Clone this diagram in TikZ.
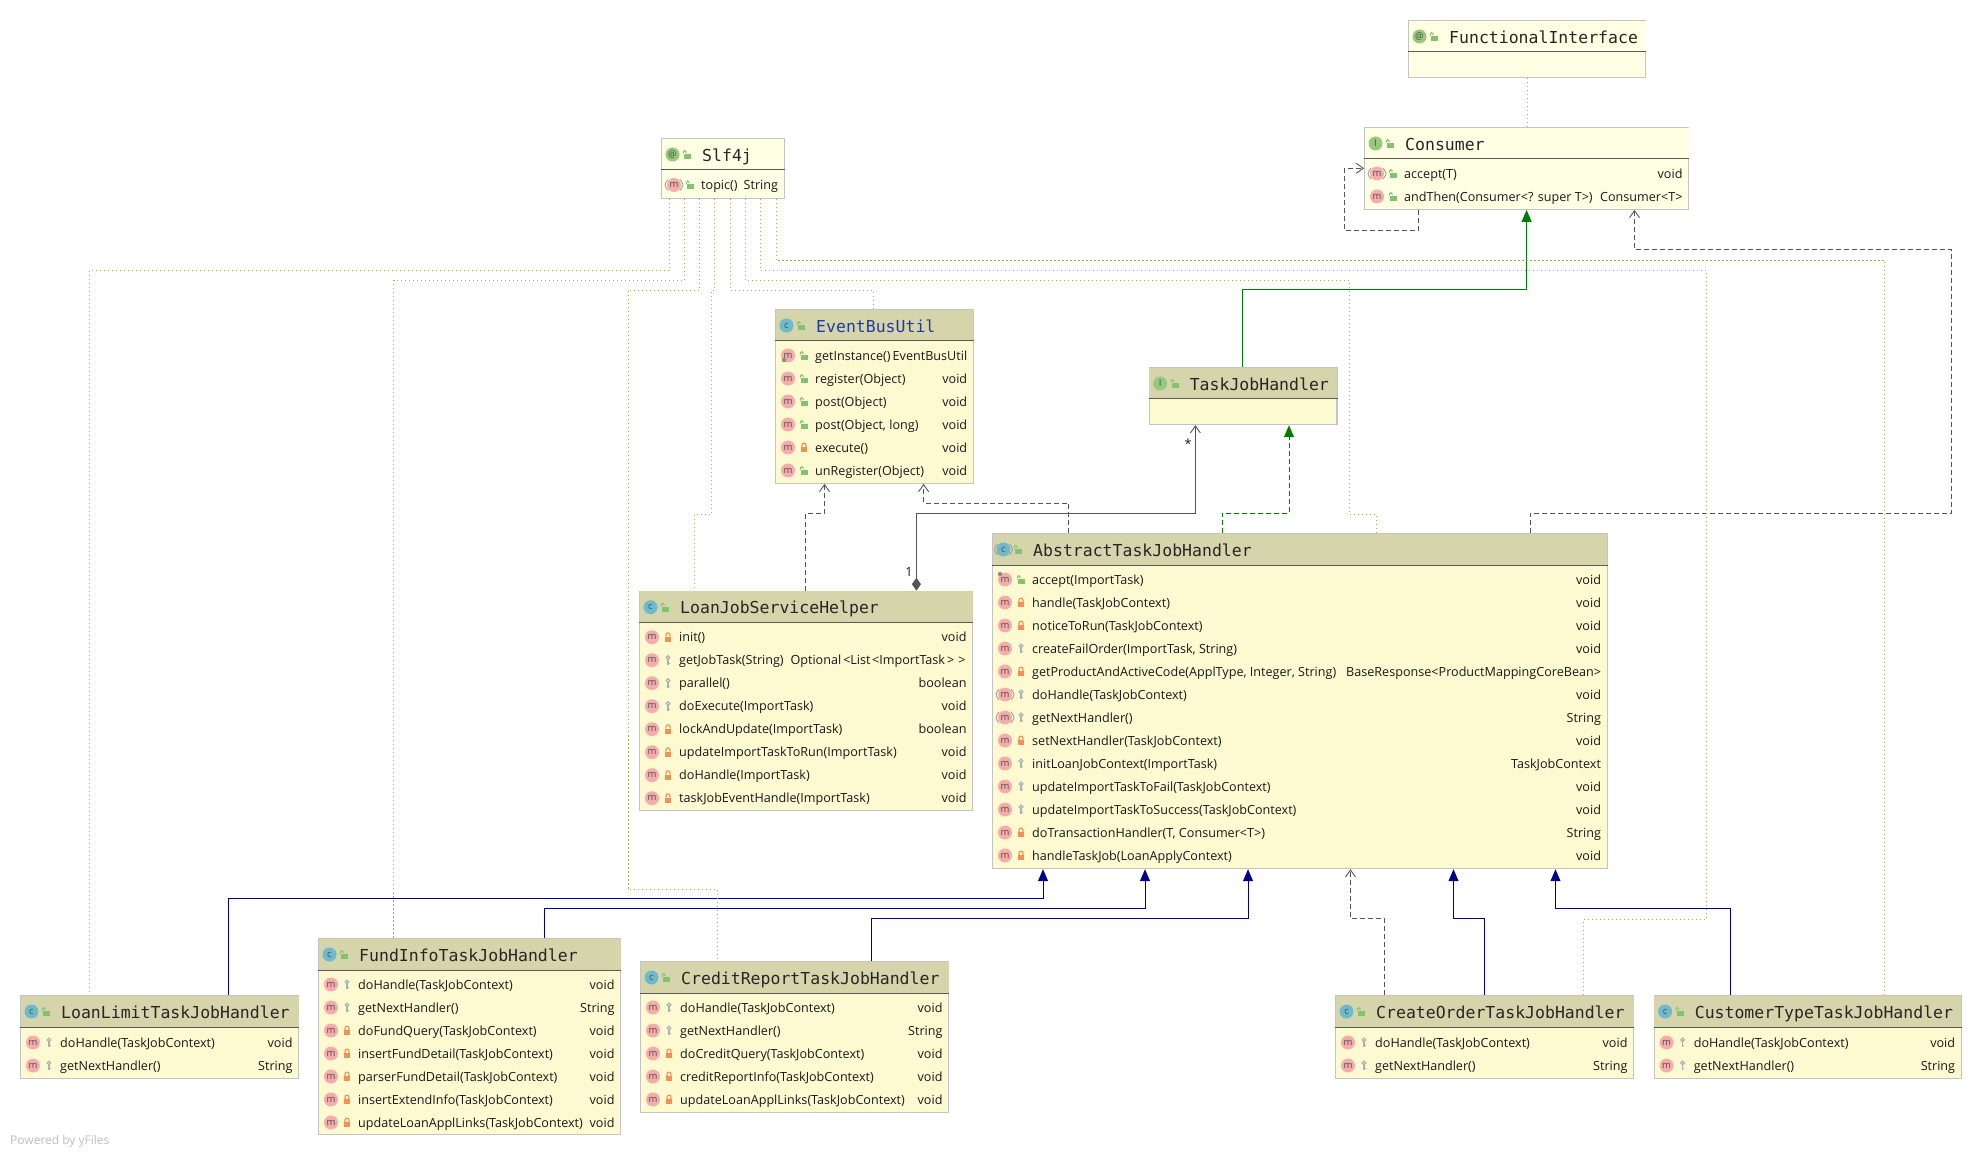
\documentclass[tikz,border=0pt]{standalone}
\usepackage{fontspec}
\setmainfont{Open Sans}
\newfontfamily\titlefont{DejaVu Sans Mono}
\usetikzlibrary{arrows.meta}

\definecolor{headkhaki}{RGB}{214,212,170}
\definecolor{bodykhaki}{RGB}{253,249,208}
\definecolor{palebox}{RGB}{255,255,228}
\definecolor{boxline}{RGB}{196,196,196}
\definecolor{headline}{RGB}{90,90,90}
\definecolor{dotolive}{RGB}{172,172,76}
\definecolor{depgrey}{RGB}{85,85,85}
\definecolor{navyline}{RGB}{0,0,140}
\definecolor{greenline}{RGB}{0,125,0}
\definecolor{pinkbadge}{RGB}{247,172,172}
\definecolor{bluebadge}{RGB}{110,185,205}
\definecolor{greenbadge}{RGB}{150,200,125}
\definecolor{pubgreen}{RGB}{130,195,110}
\definecolor{privorange}{RGB}{243,145,85}
\definecolor{keygrey}{RGB}{170,178,178}
\definecolor{titleblue}{RGB}{30,60,165}

\tikzset{
    classbox/.style={draw=boxline,line width=1.2pt,fill=bodykhaki,anchor=north west,inner sep=0pt},
    paleclass/.style={classbox,fill=palebox},
    badge/.style={circle,inner sep=0pt,minimum size=14pt,text=black!70,font=\fontsize{9.5}{10}\selectfont},
    classtitle/.style={anchor=base west,inner sep=0pt,text=black!85,font=\titlefont\fontsize{16.5}{18}\selectfont},
    membertext/.style={inner sep=0pt,text=black!90,font=\fontsize{12.6}{14}\selectfont},
    extendsline/.style={draw=navyline,line width=1pt,-{Triangle[width=10pt,length=12pt]}},
    implline/.style={draw=greenline,line width=1pt,-{Triangle[width=10pt,length=12pt]}},
    depline/.style={draw=depgrey,line width=.9pt,dash pattern=on 5pt off 3pt,-{Straight Barb[length=7pt,width=10pt]}},
    annotline/.style={draw=dotolive,line width=1pt,dash pattern=on 1.1pt off 2.9pt},
}

% visibility marks, drawn around the origin of a scope
\newcommand{\vispub}{%
    \fill[pubgreen] (-3,-.5) rectangle (4,4.3);
    \draw[pubgreen,line width=1pt] (-3.6,-.8) -- (-3.6,-2.6) arc (180:360:1.3) -- (-1,-1.6);
}
\newcommand{\vispriv}{%
    \fill[privorange] (-3.4,-.5) rectangle (3.4,4.4);
    \draw[privorange,line width=1.1pt] (-2,-.5) -- (-2,-2.4) arc (180:360:2) -- (2,-.5);
}
\newcommand{\viskey}{%
    \draw[keygrey,line width=1.2pt] (0,-2.6) circle (1.8);
    \draw[keygrey,line width=1.5pt] (0,-.8) -- (0,4.8);
    \draw[keygrey,line width=1pt] (0,3.2) -- (1.6,3.2);
}

% first row of a class, below its top edge
\newcommand{\rowtop}{46.5}

% header of a class: name, fill colour, badge colour, badge letter, title
\newcommand{\classhead}[5]{%
    \fill[#2] ([shift={(.6,.6)}]#1.north west) rectangle ([shift={(-.6,32)}]#1.north east);
    \draw[headline,line width=1pt] ([yshift=-32pt]#1.north west) -- ([yshift=-32pt]#1.north east);
    \node[badge,fill=#3] (#1-badge) at ([shift={(11.5,16.5)}]#1.north west) {#4};
    \begin{scope}[shift={([shift={(26,16.5)}]#1.north west)}]
        \vispub
    \end{scope}
    \node[classtitle] (#1-title) at ([shift={(41,23.2)}]#1.north west) {#5};
}

% one row of a class: class, row, visibility, name, type
\newcommand{\memberrow}[5]{%
    \node[badge,fill=pinkbadge] (#1-badge#2) at ([shift={(13,\rowtop+23*#2)}]#1.north west) {m};
    \begin{scope}[shift={([shift={(29,\rowtop+23*#2)}]#1.north west)}]
        \csname vis#3\endcsname
    \end{scope}
    \node[membertext,anchor=base west] (#1-name#2) at ([shift={(40,\rowtop+4.6+23*#2)}]#1.north west) {#4};
    \node[membertext,anchor=base east] (#1-type#2) at ([shift={(-6.5,\rowtop+4.6+23*#2)}]#1.north east) {#5};
}

% grey brackets round a badge, for abstract members
\newcommand{\abstractmark}[1]{%
    \draw[black!40,line width=.8pt] ([shift={(-6,-5.5)}]#1.center) .. controls ([shift={(-10,0)}]#1.center) .. ([shift={(-6,5.5)}]#1.center);
    \draw[black!40,line width=.8pt] ([shift={(6,-5.5)}]#1.center) .. controls ([shift={(10,0)}]#1.center) .. ([shift={(6,5.5)}]#1.center);
}

\begin{document}
\begin{tikzpicture}[x=1pt,y=-1pt]
    \useasboundingbox[fill=white] (0,0) rectangle (1982,1155);

    % the annotation and the interfaces
    \node[paleclass,minimum width=237pt,minimum height=56.7pt] (functional) at (1408,20) {};
    \classhead{functional}{palebox}{greenbadge}{@}{FunctionalInterface}

    \node[paleclass,minimum width=324pt,minimum height=81.7pt] (consumer) at (1364,127) {};
    \classhead{consumer}{palebox}{greenbadge}{I}{Consumer}
    \memberrow{consumer}{0}{pub}{accept(T)}{void}
    \memberrow{consumer}{1}{pub}{andThen(Consumer<? super T>)}{Consumer<T>}
    \abstractmark{consumer-badge0}

    \renewcommand{\rowtop}{47}
    \node[paleclass,minimum width=122.5pt,minimum height=59.7pt] (slf) at (661,138) {};
    \classhead{slf}{palebox}{greenbadge}{@}{Slf4j}
    \memberrow{slf}{0}{pub}{topic()}{String}
    \abstractmark{slf-badge0}
    \renewcommand{\rowtop}{46.5}

    \node[classbox,minimum width=187.7pt,minimum height=57pt] (taskjob) at (1148.6,367) {};
    \classhead{taskjob}{headkhaki}{greenbadge}{I}{TaskJobHandler}

    % helper classes
    \node[classbox,minimum width=197.7pt,minimum height=173.7pt] (eventbus) at (775,309) {};
    \classhead{eventbus}{headkhaki}{bluebadge}{c}{\textcolor{titleblue}{EventBusUtil}}
    \memberrow{eventbus}{0}{pub}{getInstance()}{EventBusUtil}
    \memberrow{eventbus}{1}{pub}{register(Object)}{void}
    \memberrow{eventbus}{2}{pub}{post(Object)}{void}
    \memberrow{eventbus}{3}{pub}{post(Object, long)}{void}
    \memberrow{eventbus}{4}{priv}{execute()}{void}
    \memberrow{eventbus}{5}{pub}{unRegister(Object)}{void}
    \fill[black!45] ([shift={(-4,4.5)}]eventbus-badge0.center) circle (2.2);

    \node[classbox,minimum width=333pt,minimum height=219.5pt] (loanjob) at (639,590.7) {};
    \classhead{loanjob}{headkhaki}{bluebadge}{c}{LoanJobServiceHelper}
    \memberrow{loanjob}{0}{priv}{init()}{void}
    \memberrow{loanjob}{1}{key}{getJobTask(String)}{Optional\kern2pt<List\kern1.5pt<ImportTask\kern2pt>\kern4pt>\kern1pt}
    \memberrow{loanjob}{2}{key}{parallel()}{boolean}
    \memberrow{loanjob}{3}{key}{doExecute(ImportTask)}{void}
    \memberrow{loanjob}{4}{priv}{lockAndUpdate(ImportTask)}{boolean}
    \memberrow{loanjob}{5}{priv}{updateImportTaskToRun(ImportTask)}{void}
    \memberrow{loanjob}{6}{priv}{doHandle(ImportTask)}{void}
    \memberrow{loanjob}{7}{priv}{taskJobEventHandle(ImportTask)}{void}

    % abstract class
    \node[classbox,minimum width=614.5pt,minimum height=335pt] (abstract) at (992,533) {};
    \classhead{abstract}{headkhaki}{bluebadge}{c}{AbstractTaskJobHandler}
    \abstractmark{abstract-badge}
    \memberrow{abstract}{0}{pub}{accept(ImportTask)}{void}
    \memberrow{abstract}{1}{priv}{handle(TaskJobContext)}{void}
    \memberrow{abstract}{2}{priv}{noticeToRun(TaskJobContext)}{void}
    \memberrow{abstract}{3}{key}{createFailOrder(ImportTask, String)}{void}
    \memberrow{abstract}{4}{priv}{getProductAndActiveCode(ApplType, Integer, String)}{BaseResponse<ProductMappingCoreBean>}
    \memberrow{abstract}{5}{key}{doHandle(TaskJobContext)}{void}
    \memberrow{abstract}{6}{key}{getNextHandler()}{String}
    \memberrow{abstract}{7}{priv}{setNextHandler(TaskJobContext)}{void}
    \memberrow{abstract}{8}{key}{initLoanJobContext(ImportTask)}{TaskJobContext}
    \memberrow{abstract}{9}{key}{updateImportTaskToFail(TaskJobContext)}{void}
    \memberrow{abstract}{10}{key}{updateImportTaskToSuccess(TaskJobContext)}{void}
    \memberrow{abstract}{11}{priv}{doTransactionHandler(T, Consumer<T>)}{String}
    \memberrow{abstract}{12}{priv}{handleTaskJob(LoanApplyContext)}{void}
    \abstractmark{abstract-badge5}
    \abstractmark{abstract-badge6}
    \fill[black!45] ([shift={(-5,-5.5)}]abstract-badge0.center) circle (2.2);

    % concrete handlers
    \renewcommand{\rowtop}{47.5}
    \node[classbox,minimum width=278pt,minimum height=83pt] (loanlimit) at (20,995) {};
    \classhead{loanlimit}{headkhaki}{bluebadge}{c}{LoanLimitTaskJobHandler}
    \memberrow{loanlimit}{0}{key}{doHandle(TaskJobContext)}{void}
    \memberrow{loanlimit}{1}{key}{getNextHandler()}{String}
    \renewcommand{\rowtop}{46.5}

    \node[classbox,minimum width=302pt,minimum height=196pt] (fundinfo) at (318,938) {};
    \classhead{fundinfo}{headkhaki}{bluebadge}{c}{FundInfoTaskJobHandler}
    \memberrow{fundinfo}{0}{key}{doHandle(TaskJobContext)}{void}
    \memberrow{fundinfo}{1}{key}{getNextHandler()}{String}
    \memberrow{fundinfo}{2}{priv}{doFundQuery(TaskJobContext)}{void}
    \memberrow{fundinfo}{3}{priv}{insertFundDetail(TaskJobContext)}{void}
    \memberrow{fundinfo}{4}{priv}{parserFundDetail(TaskJobContext)}{void}
    \memberrow{fundinfo}{5}{priv}{insertExtendInfo(TaskJobContext)}{void}
    \memberrow{fundinfo}{6}{priv}{updateLoanApplLinks(TaskJobContext)}{void}

    \node[classbox,minimum width=308pt,minimum height=151pt] (credit) at (640,961) {};
    \classhead{credit}{headkhaki}{bluebadge}{c}{CreditReportTaskJobHandler}
    \memberrow{credit}{0}{key}{doHandle(TaskJobContext)}{void}
    \memberrow{credit}{1}{key}{getNextHandler()}{String}
    \memberrow{credit}{2}{priv}{doCreditQuery(TaskJobContext)}{void}
    \memberrow{credit}{3}{priv}{creditReportInfo(TaskJobContext)}{void}
    \memberrow{credit}{4}{priv}{updateLoanApplLinks(TaskJobContext)}{void}

    \renewcommand{\rowtop}{47.5}
    \node[classbox,minimum width=298pt,minimum height=82.5pt] (createorder) at (1335,995) {};
    \classhead{createorder}{headkhaki}{bluebadge}{c}{CreateOrderTaskJobHandler}
    \memberrow{createorder}{0}{key}{doHandle(TaskJobContext)}{void}
    \memberrow{createorder}{1}{key}{getNextHandler()}{String}

    \node[classbox,minimum width=307pt,minimum height=82.5pt] (customer) at (1653.6,995) {};
    \classhead{customer}{headkhaki}{bluebadge}{c}{CustomerTypeTaskJobHandler}
    \memberrow{customer}{0}{key}{doHandle(TaskJobContext)}{void}
    \memberrow{customer}{1}{key}{getNextHandler()}{String}

    % inheritance into the abstract class
    \draw[extendsline] ([xshift=208.4pt]loanlimit.north west) -- ++(0,-96.7) -| ([xshift=51pt]abstract.south west);
    \draw[extendsline] ([xshift=226.4pt]fundinfo.north west) -- ++(0,-29.7) -| ([xshift=153pt]abstract.south west);
    \draw[extendsline] ([xshift=231.4pt]credit.north west) -- ++(0,-42.7) -| ([xshift=256pt]abstract.south west);
    \draw[extendsline] ([xshift=149.4pt]createorder.north west) -- ++(0,-76.7) -| ([xshift=461.5pt]abstract.south west);
    \draw[extendsline] ([xshift=77pt]customer.north west) -- ++(0,-86.7) -| ([xshift=563.5pt]abstract.south west);

    % interfaces
    \draw[implline] ([xshift=93.7pt]taskjob.north west) -- ++(0,-77.7) -| ([xshift=162.6pt]consumer.south west);
    \draw[implline,dash pattern=on 5pt off 3pt] ([xshift=230pt]abstract.north west) -- ++(0,-20) -| ([xshift=140.4pt]taskjob.south west);

    % dependencies
    \draw[depline] ([xshift=49.4pt]createorder.north west) -- ++(0,-76.7) -| ([xshift=358.5pt]abstract.south west);
    \draw[depline] ([xshift=538pt]abstract.north west) -- ++(0,-20) -- ++(421.6,0) -- ++(0,-264) -| ([xshift=270.5pt]consumer.south west);
    \draw[depline] ([xshift=76.7pt]abstract.north west) -- ++(0,-30) -| ([xshift=148.6pt]eventbus.south west);
    \draw[depline] ([xshift=166.3pt]loanjob.north west) -- ++(0,-77.7) -| ([xshift=49.5pt]eventbus.south west);
    \draw[depline] ([xshift=54.3pt]consumer.south west) -- ++(0,20.6) -- ++(-74,0) |- ([yshift=-41.3pt]consumer.north west);

    % composition
    \draw[draw=depgrey,line width=.9pt,{Diamond[length=13pt,width=9pt,fill=depgrey]}-{Straight Barb[length=7pt,width=10pt]}] ([xshift=277.4pt]loanjob.north west) -- ++(0,-77.7) -| ([xshift=46.8pt]taskjob.south west);
    \node[membertext,anchor=center] (onelabel) at (909,572) {1};
    \node[membertext,anchor=center] (manylabel) at (1188,444) {*};

    % Slf4j and FunctionalInterface
    \draw[annotline] (functional.south) -- (functional.south |- consumer.north);
    \draw[annotline] ([xshift=8pt]slf.south west) -- ++(0,71.6) -| ([xshift=69.4pt]loanlimit.north west);
    \draw[annotline] ([xshift=23.3pt]slf.south west) -- ++(0,81.6) -| ([xshift=75.8pt]fundinfo.north west);
    \draw[annotline] ([xshift=38.5pt]slf.south west) -- ++(0,91.6) -- ++(-71.5,0) -- ++(0,598.7) -| ([xshift=77.7pt]credit.north west);
    \draw[annotline] ([xshift=53.6pt]slf.south west) -- ++(0,91.6) -- ++(-3.1,0) -- ++(0,223.7) -| ([xshift=55.6pt]loanjob.north west);
    \draw[annotline] ([xshift=69.7pt]slf.south west) -- ++(0,91.6) -| ([xshift=98.6pt]eventbus.north west);
    \draw[annotline] ([xshift=84.4pt]slf.south west) -- ++(0,81.6) -- ++(604.2,0) -- ++(0,233.7) -| ([xshift=384.5pt]abstract.north west);
    \draw[annotline] ([xshift=99.6pt]slf.south west) -- ++(0,71.6) -- ++(946.1,0) -- ++(0,648.7) -| ([xshift=248.6pt]createorder.north west);
    \draw[annotline] ([xshift=115pt]slf.south west) -- ++(0,61.6) -| ([xshift=231pt]customer.north west);

    \node[anchor=west,inner sep=0pt,text=black!25,font=\fontsize{12}{14}\selectfont] (powered) at (10,1141.5) {Powered by yFiles};
\end{tikzpicture}
\end{document}
